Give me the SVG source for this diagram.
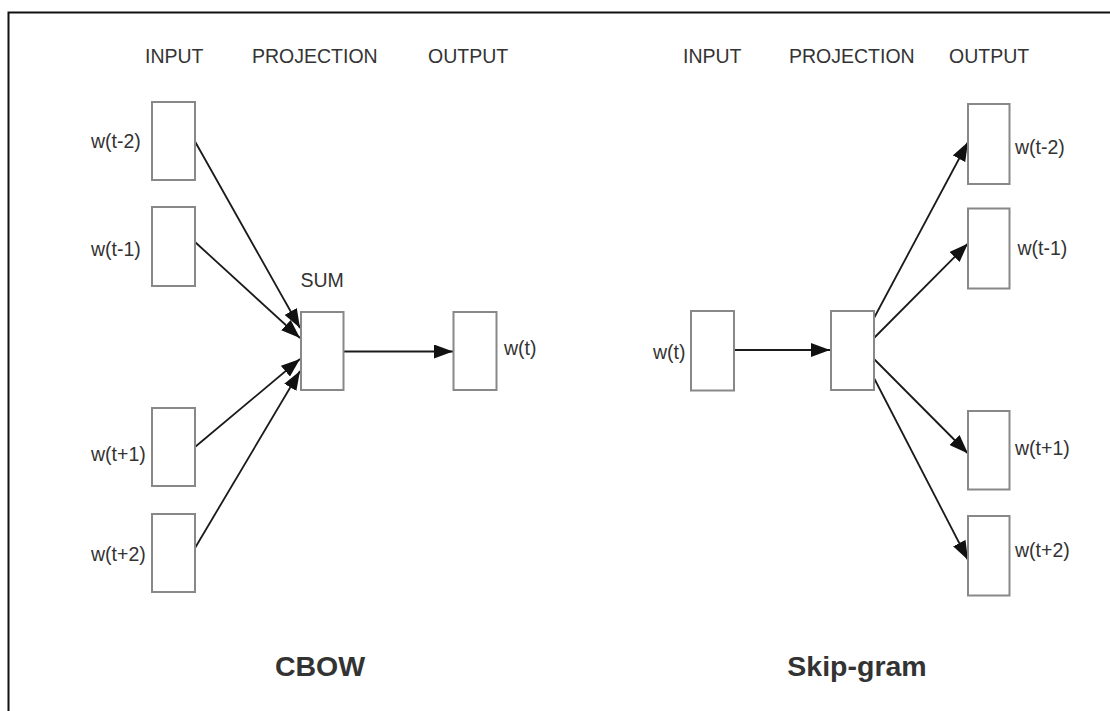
<svg xmlns="http://www.w3.org/2000/svg" width="1110" height="711" viewBox="0 0 1110 711">
<defs>
<style>
.box{fill:#fff;stroke:#888;stroke-width:2}
.lbl{font-family:"Liberation Sans",Arial,sans-serif;font-size:19.5px;fill:#333}
.title{font-family:"Liberation Sans",Arial,sans-serif;font-size:28.5px;font-weight:bold;fill:#333;text-anchor:middle}
.edge{fill:none;stroke:#1a1a1a;stroke-width:1.8}
</style>
<marker id="arr" markerUnits="userSpaceOnUse" markerWidth="19" markerHeight="14" refX="19" refY="7" orient="auto">
<path d="M0,0 L19,7 L0,14 z" fill="#111"/>
</marker>
</defs>
<rect x="0" y="0" width="1110" height="711" fill="#fff"/>
<path d="M8.5,711 V12.5 H1110" fill="none" stroke="#111" stroke-width="2"/>

<g id="headers">
<text class="lbl" x="145" y="63">INPUT</text>
<text class="lbl" x="252" y="63">PROJECTION</text>
<text class="lbl" x="428" y="63">OUTPUT</text>
<text class="lbl" x="683" y="63">INPUT</text>
<text class="lbl" x="789" y="63">PROJECTION</text>
<text class="lbl" x="949" y="63">OUTPUT</text>
</g>

<g id="connectors">
<line class="edge" x1="195" y1="141.5" x2="300" y2="328" marker-end="url(#arr)"/>
<line class="edge" x1="195" y1="242" x2="300" y2="338" marker-end="url(#arr)"/>
<line class="edge" x1="195" y1="447" x2="300" y2="359" marker-end="url(#arr)"/>
<line class="edge" x1="195" y1="548" x2="300" y2="371" marker-end="url(#arr)"/>
<line class="edge" x1="342" y1="351.5" x2="453" y2="351.5" marker-end="url(#arr)"/>
<line class="edge" x1="732" y1="350" x2="830" y2="350" marker-end="url(#arr)"/>
<line class="edge" x1="874" y1="318" x2="968" y2="142" marker-end="url(#arr)"/>
<line class="edge" x1="874" y1="338" x2="968" y2="243.5" marker-end="url(#arr)"/>
<line class="edge" x1="874" y1="359" x2="968" y2="453.5" marker-end="url(#arr)"/>
<line class="edge" x1="874" y1="378" x2="968" y2="560" marker-end="url(#arr)"/>
</g>

<g id="cbow-in-t-2"><rect class="box" x="152" y="102" width="43" height="78"/><text class="lbl" x="91" y="148">w(t-2)</text></g>
<g id="cbow-in-t-1"><rect class="box" x="152" y="207" width="43" height="79"/><text class="lbl" x="91" y="256">w(t-1)</text></g>
<g id="cbow-in-t+1"><rect class="box" x="152" y="408" width="43" height="78"/><text class="lbl" x="91" y="461">w(t+1)</text></g>
<g id="cbow-in-t+2"><rect class="box" x="152" y="514" width="43" height="78"/><text class="lbl" x="91" y="561">w(t+2)</text></g>
<g id="cbow-sum"><rect class="box" x="301" y="312" width="42.5" height="78"/><text class="lbl" x="300.5" y="287">SUM</text></g>
<g id="cbow-out"><rect class="box" x="453.5" y="312" width="43" height="78"/><text class="lbl" x="504" y="355">w(t)</text></g>

<g id="sg-in"><rect class="box" x="691" y="311" width="43" height="79.5"/><text class="lbl" x="653" y="359">w(t)</text></g>
<g id="sg-proj"><rect class="box" x="831" y="311" width="43" height="79"/></g>
<g id="sg-out-t-2"><rect class="box" x="968" y="104" width="41.5" height="80"/><text class="lbl" x="1015" y="154">w(t-2)</text></g>
<g id="sg-out-t-1"><rect class="box" x="968" y="208.5" width="41.5" height="80"/><text class="lbl" x="1017.5" y="255">w(t-1)</text></g>
<g id="sg-out-t+1"><rect class="box" x="968" y="411" width="41.5" height="78.5"/><text class="lbl" x="1015" y="455">w(t+1)</text></g>
<g id="sg-out-t+2"><rect class="box" x="968" y="516" width="41.5" height="79.5"/><text class="lbl" x="1015" y="557">w(t+2)</text></g>

<g id="titles">
<text class="title" x="320" y="676">CBOW</text>
<text class="title" x="857" y="676">Skip-gram</text>
</g>
</svg>
